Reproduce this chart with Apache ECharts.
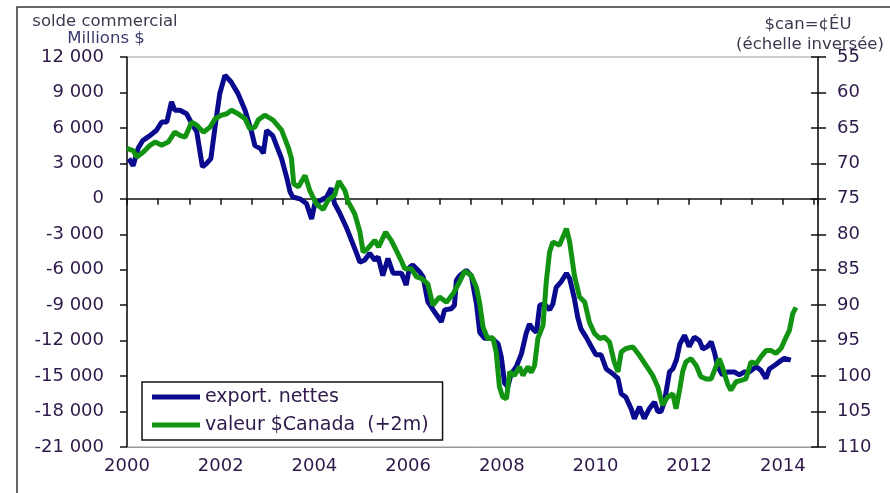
<!DOCTYPE html>
<html>
<head>
<meta charset="utf-8">
<script src="https://cdn.jsdelivr.net/npm/echarts@6/dist/echarts.min.js"></script>
<style>
  html, body { margin: 0; padding: 0; background: #fff; }
  #chart { width: 890px; height: 493px; }
</style>
</head>
<body>
<div id="chart"></div>
<script>
// solde commercial (export. nettes), millions $
var blueYears = [2000.04, 2000.13, 2000.24, 2000.34, 2000.49, 2000.63, 2000.74, 2000.85, 2000.95, 2001.02,
    2001.13, 2001.27, 2001.38, 2001.49, 2001.61, 2001.70, 2001.79, 2001.88, 2001.98, 2002.09,
    2002.22, 2002.37, 2002.52, 2002.66, 2002.73, 2002.85, 2002.91, 2002.98, 2003.11, 2003.30,
    2003.41, 2003.48, 2003.54, 2003.69, 2003.83, 2003.94, 2004.01, 2004.15, 2004.26, 2004.36,
    2004.43, 2004.54, 2004.68, 2004.79, 2004.90, 2004.97, 2005.07, 2005.18, 2005.29, 2005.36,
    2005.46, 2005.57, 2005.68, 2005.78, 2005.86, 2005.96, 2006.03, 2006.10, 2006.25, 2006.32,
    2006.42, 2006.57, 2006.71, 2006.78, 2006.92, 2006.99, 2007.03, 2007.10, 2007.24, 2007.35,
    2007.46, 2007.53, 2007.63, 2007.78, 2007.92, 2007.99, 2008.06, 2008.13, 2008.20, 2008.31,
    2008.42, 2008.52, 2008.59, 2008.66, 2008.74, 2008.81, 2008.91, 2009.02, 2009.09, 2009.16,
    2009.27, 2009.38, 2009.45, 2009.55, 2009.62, 2009.69, 2009.80, 2009.91, 2010.01, 2010.12,
    2010.23, 2010.37, 2010.48, 2010.55, 2010.65, 2010.76, 2010.83, 2010.94, 2011.04, 2011.15,
    2011.26, 2011.33, 2011.40, 2011.47, 2011.58, 2011.65, 2011.73, 2011.80, 2011.90, 2012.00,
    2012.11, 2012.22, 2012.29, 2012.39, 2012.47, 2012.54, 2012.61, 2012.71, 2012.82, 2012.96,
    2013.07, 2013.18, 2013.28, 2013.43, 2013.53, 2013.64, 2013.71, 2013.82, 2013.92, 2014.03,
    2014.17];
var blueValues = [3400, 2800, 4300, 4950, 5350, 5800, 6500, 6500, 8200, 7500,
    7500, 7200, 6400, 5650, 2700, 3000, 3400, 6100, 8900, 10450,
    9900, 8900, 7500, 5650, 4500, 4250, 3850, 5800, 5350, 3400,
    1800, 600, 150, 0, -400, -1700, -400, -100, 150, 900,
    -400, -1200, -2400, -3500, -4600, -5350, -5200, -4600, -5200, -4900,
    -6500, -5050, -6300, -6300, -6300, -7300, -5800, -5600, -6200, -6600,
    -8700, -9600, -10400, -9400, -9300, -9000, -6900, -6500, -6050, -6500,
    -8900, -11300, -11800, -11800, -12250, -13400, -15600, -15900, -14800, -14200,
    -13100, -11400, -10600, -11000, -11300, -9000, -8900, -9400, -8900, -7500,
    -7000, -6300, -6750, -8450, -10000, -11000, -11700, -12500, -13200, -13200,
    -14400, -14800, -15200, -16500, -16800, -17750, -18600, -17600, -18600, -17750,
    -17200, -18000, -18000, -17200, -14650, -14400, -13600, -12300, -11550, -12500,
    -11700, -12000, -12700, -12500, -12100, -13000, -14200, -14900, -14650, -14650,
    -14900, -14650, -14650, -14200, -14500, -15200, -14400, -14100, -13800, -13500,
    -13650];

// valeur du $Canada en cents US (+2 mois), échelle de droite inversée
var greenYears = [2000.00, 2000.13, 2000.21, 2000.35, 2000.49, 2000.60, 2000.74, 2000.88, 2001.02, 2001.13,
    2001.24, 2001.38, 2001.49, 2001.63, 2001.77, 2001.88, 2002.02, 2002.13, 2002.23, 2002.37,
    2002.52, 2002.62, 2002.73, 2002.80, 2002.94, 2003.12, 2003.30, 2003.44, 2003.51, 2003.56,
    2003.66, 2003.80, 2003.90, 2004.04, 2004.19, 2004.29, 2004.43, 2004.52, 2004.65, 2004.72,
    2004.86, 2004.97, 2005.04, 2005.14, 2005.29, 2005.37, 2005.52, 2005.64, 2005.75, 2005.86,
    2005.93, 2006.07, 2006.18, 2006.28, 2006.42, 2006.53, 2006.67, 2006.82, 2006.96, 2007.10,
    2007.21, 2007.35, 2007.46, 2007.53, 2007.60, 2007.70, 2007.81, 2007.88, 2007.95, 2008.02,
    2008.10, 2008.17, 2008.27, 2008.38, 2008.45, 2008.56, 2008.63, 2008.70, 2008.77, 2008.88,
    2008.95, 2009.02, 2009.09, 2009.23, 2009.38, 2009.45, 2009.55, 2009.66, 2009.77, 2009.87,
    2009.98, 2010.09, 2010.19, 2010.30, 2010.40, 2010.48, 2010.55, 2010.65, 2010.80, 2010.94,
    2011.08, 2011.22, 2011.33, 2011.43, 2011.54, 2011.65, 2011.72, 2011.80, 2011.86, 2011.93,
    2012.04, 2012.15, 2012.25, 2012.36, 2012.47, 2012.54, 2012.64, 2012.71, 2012.82, 2012.89,
    2013.00, 2013.11, 2013.21, 2013.32, 2013.43, 2013.53, 2013.64, 2013.75, 2013.85, 2013.96,
    2014.07, 2014.14, 2014.21, 2014.28];
var greenValues = [67.9, 68.2, 69.1, 68.4, 67.45, 67.0, 67.45, 67.0, 65.6, 66.05,
    66.3, 64.2, 64.6, 65.6, 64.9, 63.7, 63.2, 63.0, 62.5, 63.0,
    63.7, 65.1, 64.9, 63.9, 63.2, 63.9, 65.3, 67.7, 69.3, 72.9,
    73.3, 71.7, 73.8, 75.7, 76.5, 75.2, 74.5, 72.5, 73.8, 75.4,
    77.1, 79.6, 82.5, 82.0, 80.85, 81.8, 79.7, 80.85, 82.3, 83.8,
    84.85, 84.85, 86.0, 86.2, 87.0, 90.0, 88.85, 89.6, 88.4, 86.7,
    85.2, 85.8, 87.5, 89.8, 93.1, 94.7, 94.6, 96.6, 101.5, 102.95,
    103.2, 99.4, 99.9, 98.7, 99.9, 98.7, 99.5, 98.5, 94.7, 92.85,
    86.7, 82.5, 81.1, 81.55, 79.2, 81.1, 85.8, 88.85, 89.55, 92.4,
    94.0, 94.7, 94.5, 95.2, 98.0, 99.4, 96.6, 96.1, 95.9, 97.1,
    98.5, 99.9, 101.5, 104.1, 102.95, 102.5, 104.6, 101.8, 99.4, 98.0,
    97.55, 98.5, 100.1, 100.4, 100.4, 99.2, 97.55, 98.7, 101.1, 102.0,
    100.8, 100.6, 100.4, 98.0, 98.25, 97.3, 96.4, 96.4, 96.8, 96.1,
    94.5, 93.55, 91.2, 90.3];

var seriesNames = ['export. nettes', 'valeur $Canada  (+2m)'];

var labelColor = '#2e1a4a';
var font = 'DejaVu Sans';

function pairs(xs, ys) {
    var out = [];
    for (var i = 0; i < xs.length; i++) out.push([xs[i], ys[i]]);
    return out;
}

// 12000 -> "12 000"
function fmtThousands(v) {
    var s = Math.abs(v).toString().replace(/\B(?=(\d{3})+(?!\d))/g, ' ');
    return (v < 0 ? '-' : '') + s;
}

var myChart = echarts.init(document.getElementById('chart'), null, { renderer: 'canvas' });

var option = {
    animation: false,
    backgroundColor: '#fff',
    grid: {
        left: 127, right: 72, top: 57, bottom: 46,
        show: true, borderColor: '#999', borderWidth: 1
    },
    legend: {
        orient: 'vertical',
        left: 142, top: 382,
        padding: [4, 14, 4, 10],
        itemGap: 6,
        itemWidth: 48, itemHeight: 5,
        itemGap: 6,
        itemTextGap: 4,
        icon: 'rect',
        backgroundColor: '#fff',
        borderColor: '#111', borderWidth: 1.5,
        textStyle: { fontFamily: font, fontSize: 19, color: labelColor, lineHeight: 22 },
        data: seriesNames
    },
    xAxis: [{
        // années en bas
        type: 'value', position: 'bottom',
        min: 2000, max: 2014.75, interval: 2,
        axisLine: { onZero: false, lineStyle: { color: '#999', width: 1 } },
        axisTick: { show: false },
        splitLine: { show: false },
        axisLabel: {
            margin: 10, fontFamily: font, fontSize: 18, color: labelColor,
            showMaxLabel: false,
            formatter: function (v) { return v % 2 === 0 ? String(v) : ''; }
        }
    }, {
        // ligne du zéro avec graduations
        type: 'value', position: 'top',
        min: 2000, max: 2014.75, interval: 2 / 3,
        axisLine: { onZero: true, onZeroAxisIndex: 0, lineStyle: { color: '#111', width: 1.5 } },
        axisTick: { inside: true, length: 6, lineStyle: { color: '#111', width: 1.5 } },
        axisLabel: { show: false },
        splitLine: { show: false }
    }],
    yAxis: [{
        type: 'value', position: 'left',
        min: -21000, max: 12000, interval: 3000,
        axisLine: { show: true, lineStyle: { color: '#111', width: 1.5 } },
        axisTick: { show: true, length: 7, lineStyle: { color: '#111', width: 1.5 } },
        splitLine: { show: false },
        axisLabel: { margin: 23, fontFamily: font, fontSize: 18, color: labelColor, formatter: fmtThousands }
    }, {
        type: 'value', position: 'right', inverse: true,
        min: 55, max: 110, interval: 5,
        axisLine: { show: true, lineStyle: { color: '#111', width: 1.5 } },
        axisTick: { show: true, length: 8, lineStyle: { color: '#111', width: 1.5 } },
        splitLine: { show: false },
        axisLabel: { margin: 19, fontFamily: font, fontSize: 18, color: labelColor }
    }, {
        // graduations intérieures de l'axe de droite
        type: 'value', position: 'right', inverse: true,
        min: 55, max: 110, interval: 5,
        axisLine: { show: false },
        axisTick: { show: true, inside: true, length: 7, lineStyle: { color: '#111', width: 1.5 } },
        axisLabel: { show: false },
        splitLine: { show: false }
    }],
    series: [{
        name: seriesNames[0],
        type: 'line',
        xAxisIndex: 0, yAxisIndex: 0,
        showSymbol: false,
        color: '#0a0a8f',
        lineStyle: { width: 5, color: '#0a0a8f' },
        data: pairs(blueYears, blueValues)
    }, {
        name: seriesNames[1],
        type: 'line',
        xAxisIndex: 0, yAxisIndex: 1,
        showSymbol: false,
        color: '#129412',
        lineStyle: { width: 5, color: '#129412' },
        data: pairs(greenYears, greenValues)
    }],
    graphic: [
        { type: 'rect', shape: { x: 17, y: 7, width: 900, height: 520 },
          style: { fill: 'none', stroke: '#333', lineWidth: 1.5 }, silent: true },
        { type: 'text', x: 105, y: 22,
          style: { text: 'solde commercial', font: '16.5px "DejaVu Sans"', fill: '#3a3a4e', align: 'center', verticalAlign: 'middle' } },
        { type: 'text', x: 106, y: 38.5,
          style: { text: 'Millions $', font: '16.5px "DejaVu Sans"', fill: '#3a3a6e', align: 'center', verticalAlign: 'middle' } },
        { type: 'text', x: 808, y: 25,
          style: { text: '$can=¢ÉU', font: '16.5px "DejaVu Sans"', fill: '#3a3a4e', align: 'center', verticalAlign: 'middle' } },
        { type: 'text', x: 810, y: 45,
          style: { text: '(échelle inversée)', font: '16.5px "DejaVu Sans"', fill: '#3a3a4e', align: 'center', verticalAlign: 'middle' } }
    ]
};

myChart.setOption(option);
</script>
</body>
</html>
